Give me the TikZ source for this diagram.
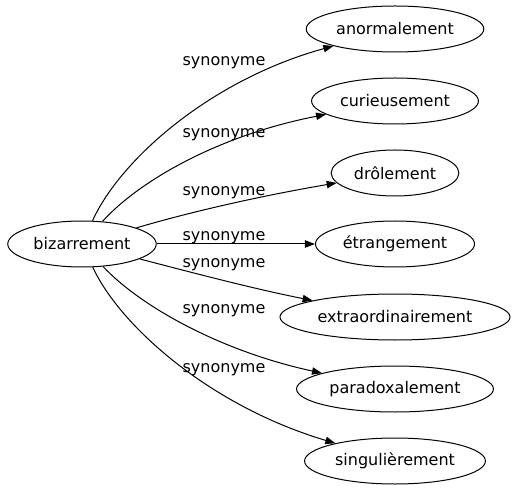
\documentclass[tikz,border=0pt]{standalone}
\usepackage{fontspec}
\setmainfont{DejaVu Sans}
\usetikzlibrary{arrows.meta,shapes.geometric}

\begin{document}
\begin{tikzpicture}
  [x=0.75pt,y=-0.75pt,
   word/.style={ellipse,draw,line width=0.75pt,inner xsep=3pt,minimum height=34.5pt,font=\fontsize{12}{14}\selectfont},
   syn/.style={inner sep=0pt,font=\fontsize{12}{14}\selectfont},
   edge/.style={line width=0.75pt,-{Triangle[length=7.5pt,width=5.5pt]}}]
  \useasboundingbox (0,0) rectangle (513,491);

  \node[word] (biz) at (82,244) {bizarrement};
  \node[word] (ano) at (395,29) {anormalement};
  \node[word] (cur) at (395,101) {curieusement};
  \node[word] (dro) at (395,173) {drôlement};
  \node[word] (etr) at (395,244) {étrangement};
  \node[word] (ext) at (395,317) {extraordinairement};
  \node[word] (par) at (395,389) {paradoxalement};
  \node[word] (sin) at (395,461) {singulièrement};

  \node[syn] (s1) at (224,63) {synonyme};
  \node[syn] (s2) at (224,135) {synonyme};
  \node[syn] (s3) at (224,193) {synonyme};
  \node[syn] (s4) at (224,238) {synonyme};
  \node[syn] (s5) at (224,265) {synonyme};
  \node[syn] (s6) at (224,311) {synonyme};
  \node[syn] (s7) at (224,370) {synonyme};

  \draw[edge] (biz) .. controls (120,160) and (210,80) .. (ano);
  \draw[edge] (biz) .. controls (140,180) and (220,135) .. (cur);
  \draw[edge] (biz) .. controls (190,212) and (260,196) .. (dro);
  \draw[edge] (biz) -- (etr);
  \draw[edge] (biz) .. controls (190,272) and (250,288) .. (ext);
  \draw[edge] (biz) .. controls (140,306) and (220,351) .. (par);
  \draw[edge] (biz) .. controls (120,326) and (210,406) .. (sin);
\end{tikzpicture}
\end{document}
